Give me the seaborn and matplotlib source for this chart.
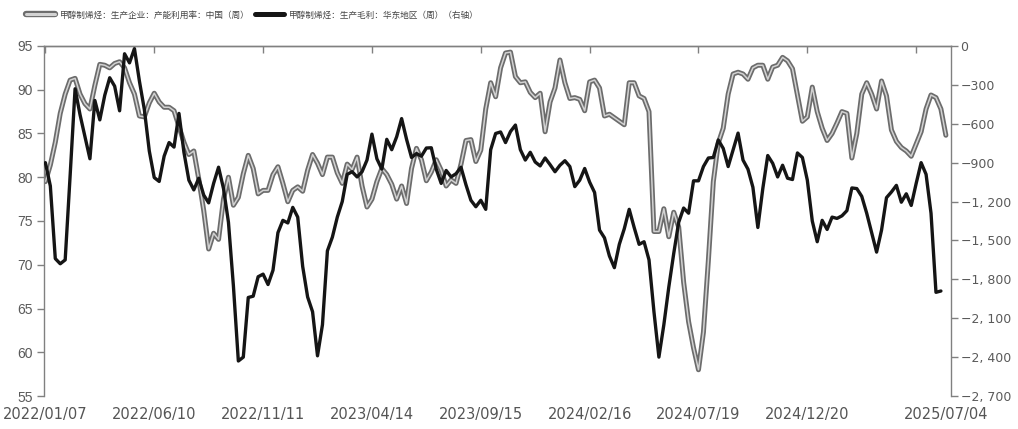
import numpy as np
import pandas as pd
import matplotlib
matplotlib.use("Agg")
import matplotlib.pyplot as plt
import seaborn as sns
from matplotlib import patheffects as pe
from matplotlib.ticker import FixedLocator, FuncFormatter

# ---------------- data ----------------
start_date = "2022-01-07"
n_weeks = 183

capacity_util = [
    79.5, 81.4, 84.0, 87.3, 89.5, 91.1, 91.3, 89.5, 88.4, 87.8,
    90.5, 92.9, 92.8, 92.5, 93.0, 93.2, 92.5, 90.8, 89.5, 87.0,
    86.9, 88.5, 89.6, 88.6, 88.0, 88.0, 87.6, 85.8, 84.0, 82.6,
    83.0, 79.8, 76.2, 71.8, 73.6, 72.9, 77.5, 80.0, 76.8, 77.7,
    80.4, 82.5, 81.0, 78.1, 78.5, 78.5, 80.3, 81.2, 79.3, 77.2,
    78.5, 78.9, 78.4, 80.8, 82.6, 81.6, 80.3, 82.3, 82.3, 80.5,
    79.3, 81.5, 80.9, 82.3, 79.0, 76.6, 77.5, 79.5, 81.0, 80.3,
    79.2, 77.5, 79.0, 77.0, 81.0, 83.3, 82.0, 79.6, 80.6, 82.0,
    80.8, 79.0, 79.7, 79.3, 81.5, 84.2, 84.3, 81.8, 83.1, 87.8,
    90.8, 89.2, 92.5, 94.2, 94.3, 91.5, 90.8, 90.9, 89.7, 89.1,
    89.6, 85.2, 88.6, 90.2, 93.4, 90.8, 89.0, 89.1, 88.9, 87.6,
    90.9, 91.1, 90.2, 87.0, 87.2, 86.8, 86.4, 86.0, 90.8, 90.8,
    89.3, 89.0, 87.5, 73.8, 73.8, 76.4, 73.2, 76.0, 74.3, 68.0,
    63.5, 60.5, 58.0, 62.3, 70.5, 79.5, 83.9, 85.6, 89.5, 91.8,
    92.0, 91.8, 91.2, 92.5, 92.8, 92.8, 91.2, 92.6, 92.8, 93.7,
    93.3, 92.4, 89.4, 86.4, 86.9, 90.3, 87.5, 85.6, 84.2, 85.0,
    86.2, 87.5, 87.3, 82.2, 85.0, 89.5, 90.8, 89.5, 87.8, 91.0,
    89.3, 85.4, 84.1, 83.4, 83.0, 82.4, 83.8, 85.2, 87.8, 89.4,
    89.1, 87.8, 84.8,
]

margin_east = [
    -900, -1080, -1640, -1680, -1650, -1000, -330, -530, -700, -870,
    -420, -570, -380, -245, -310, -500, -60, -130, -20, -270,
    -490, -810, -1015, -1045, -850, -745, -780, -520, -820, -1035,
    -1110, -1020, -1150, -1210, -1060, -935, -1100, -1360, -1850, -2430,
    -2400, -1940, -1930, -1780, -1760, -1840, -1730, -1440, -1345, -1365,
    -1245, -1320, -1700, -1936, -2050, -2390, -2150, -1580, -1475, -1320,
    -1200, -990, -970, -1010, -970, -880, -680, -870, -950, -720,
    -800, -700, -560, -720, -860, -830, -850, -787, -785, -950,
    -1060, -960, -1010, -985, -935, -1070, -1190, -1240, -1190, -1260,
    -800, -675, -663, -745, -660, -610, -800, -880, -820, -895,
    -925, -864, -915, -970, -920, -885, -930, -1085, -1035, -945,
    -1050, -1130, -1420, -1480, -1620, -1710, -1530, -1410, -1260, -1400,
    -1530, -1510, -1650, -2050, -2400, -2150, -1860, -1600, -1360, -1250,
    -1290, -1040, -1040, -930, -864, -860, -725, -790, -930, -800,
    -672, -880, -950, -1090, -1400, -1100, -845, -905, -1010, -920,
    -1020, -1030, -825, -860, -1035, -1350, -1510, -1345, -1415, -1320,
    -1330, -1310, -1270, -1095, -1100, -1160, -1290, -1440, -1590, -1420,
    -1170, -1126, -1075, -1205, -1140, -1230, -1060, -900, -990, -1290,
    -1900, -1890,
]

legend_labels = [
    "甲醇制烯烃：生产企业：产能利用率：中国（周）",
    "甲醇制烯烃：生产毛利：华东地区（周）（右轴）",
]
x_tick_labels = [
    "2022/01/07", "2022/06/10", "2022/11/11", "2023/04/14", "2023/09/15",
    "2024/02/16", "2024/07/19", "2024/12/20", "",
]
end_label = "2025/07/04"
left_ticks = [55, 60, 65, 70, 75, 80, 85, 90, 95]
right_ticks = [-2700, -2400, -2100, -1800, -1500, -1200, -900, -600, -300, 0]

# ---------------- plot ----------------
sns.set_theme(style="white")
plt.rcParams["font.family"] = ["Noto Sans CJK SC", "DejaVu Sans"]
plt.rcParams["axes.unicode_minus"] = True

dates = pd.date_range(start_date, periods=n_weeks, freq="7D")
df_cap = pd.DataFrame({"date": dates, "value": capacity_util})
df_mar = pd.DataFrame({"date": dates[: len(margin_east)], "value": margin_east})

fig = plt.figure(figsize=(10.18, 4.29), dpi=100)
ax = fig.add_axes([0.0432, 0.0769, 0.934 - 0.0432, 0.8928 - 0.0769])
ax2 = ax.twinx()

sns.lineplot(
    data=df_cap, x="date", y="value", ax=ax, color="#d2d2d2", linewidth=1.1,
    path_effects=[pe.Stroke(linewidth=3.6, foreground="#6c6c6c"), pe.Normal()],
    legend=False,
)
sns.lineplot(
    data=df_mar, x="date", y="value", ax=ax2, color="#151515", linewidth=2.4,
    legend=False,
)

spine_col = "#808080"
ax.set_ylim(55, 95)
ax2.set_ylim(-2700, 0)
ax.set_xlim(dates[0] - pd.Timedelta(days=2), dates[-1] + pd.Timedelta(days=7))

ax.set_xlabel("")
ax.set_ylabel("")
ax2.set_xlabel("")
ax2.set_ylabel("")

for a in (ax, ax2):
    for s in a.spines.values():
        s.set_color(spine_col)
        s.set_linewidth(1.0)
    a.spines["bottom"].set_visible(False)
    a.grid(False)
ax.spines["right"].set_visible(False)
ax2.spines["left"].set_visible(False)

# x axis: ticks on top (inward), labels at bottom
tick_idx = list(range(0, 177, 22))
ax.xaxis.set_major_locator(FixedLocator([matplotlib.dates.date2num(dates[i]) for i in tick_idx]))
ax.set_xticklabels(x_tick_labels)
ax.xaxis.set_minor_locator(FixedLocator([matplotlib.dates.date2num(dates[-1])]))
ax.set_xticklabels([end_label], minor=True)
ax.tick_params(axis="x", which="major", top=True, bottom=False, labeltop=False,
               labelbottom=True, direction="in", length=5, width=1, color=spine_col,
               labelsize=10.5, labelcolor="#555555", pad=8)
ax.tick_params(axis="x", which="minor", top=False, bottom=False, labeltop=False,
               labelbottom=True, length=0, labelsize=10.5, labelcolor="#555555", pad=8)
for lab in ax.get_xticklabels(which="both"):
    lab.set_fontfamily(["DejaVu Sans"])

ax.set_yticks(left_ticks)
ax.tick_params(axis="y", left=True, direction="out", length=5, width=1, color=spine_col,
               labelsize=10, labelcolor="#5a5a5a", pad=3)
for lab in ax.get_yticklabels():
    lab.set_fontfamily(["Liberation Sans", "DejaVu Sans"])

ax2.set_yticks(right_ticks)
ax2.yaxis.set_major_formatter(FuncFormatter(
    lambda v, p: ("\u2212" if v < 0 else "") + f"{abs(int(v)):,}".replace(",", ", ")))
ax2.tick_params(axis="y", right=True, direction="out", length=5, width=1, color=spine_col,
                labelsize=9, labelcolor="#5a5a5a", pad=2)
for lab in ax2.get_yticklabels():
    lab.set_fontfamily(["DejaVu Sans"])

# two legend entries placed separately to match the reference spacing
handles = [ax.get_lines()[0], ax2.get_lines()[0]]
anchors = [(0.0226, 0.965), (0.2475, 0.965)]
for k, (h, lab, anc) in enumerate(zip(handles, legend_labels, anchors)):
    leg = fig.legend([h], [lab], loc="center left", bbox_to_anchor=anc,
                     frameon=False, fontsize=6.25, handlelength=3.3,
                     handletextpad=0.55, borderaxespad=0)
    for t in leg.get_texts():
        t.set_color("#444444")
    lh = leg.legend_handles[0]
    if k == 0:
        lh.set_linewidth(2.2)
        lh.set_path_effects([pe.Stroke(linewidth=4.6, foreground="#6c6c6c"), pe.Normal()])
    else:
        lh.set_linewidth(3.6)

fig.savefig("out.png", dpi=100)
